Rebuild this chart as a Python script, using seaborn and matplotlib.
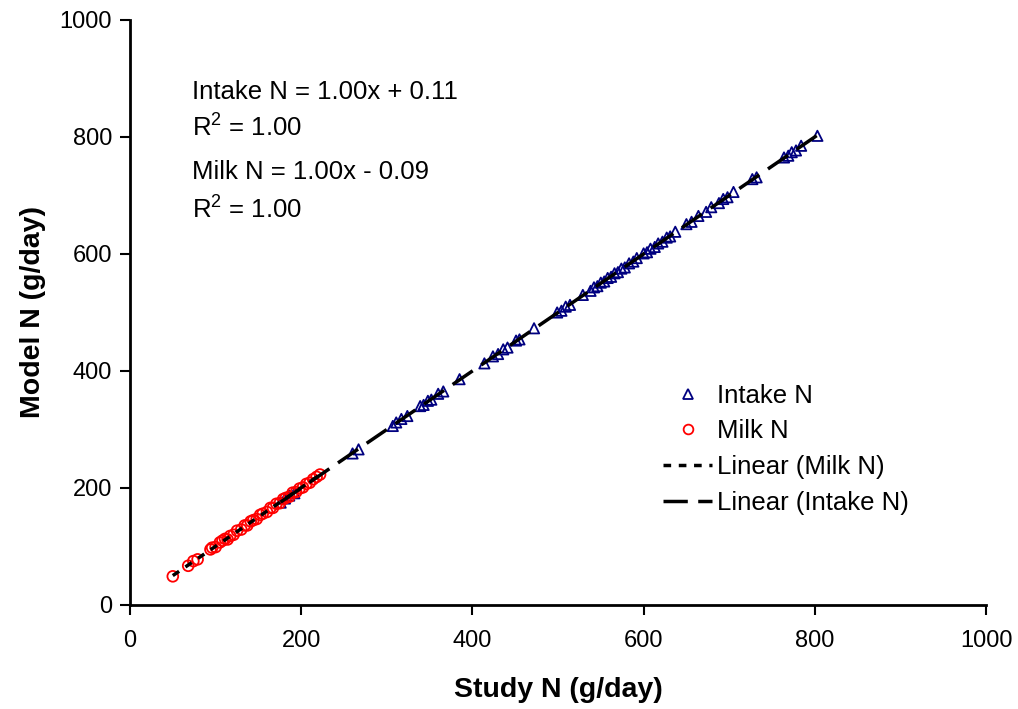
import numpy as np
import pandas as pd
import matplotlib
matplotlib.use("Agg")
import matplotlib.pyplot as plt
import seaborn as sns
from matplotlib.lines import Line2D

# ---- data ----
milk_study = [50, 68, 74, 79, 94, 96, 100, 105, 108, 111, 114, 117, 121, 125, 130, 134, 137, 141,
              144, 148, 152, 155, 160, 164, 167, 171, 175, 179, 182, 186, 190, 194, 198, 202,
              206, 210, 214, 218, 222]
milk_model = [49, 67, 75, 78, 95, 98, 99, 107, 110, 113, 112, 118, 120, 127, 129, 136, 136, 143,
              145, 147, 154, 156, 159, 166, 166, 173, 174, 181, 183, 185, 192, 193, 199, 201,
              207, 209, 215, 219, 223]
intake_study = [176, 181, 186, 192, 260, 267, 307, 311, 317, 324, 339, 343, 348, 352, 360, 366,
                385, 414, 424, 430, 436, 441, 451, 455, 472, 499, 504, 509, 514, 529, 538, 542,
                546, 550, 554, 558, 562, 566, 570, 574, 578, 583, 588, 592, 600, 604, 608, 613,
                617, 622, 627, 631, 637, 650, 656, 664, 673, 679, 688, 693, 698, 705, 727, 732,
                764, 769, 773, 778, 784, 803]
intake_model = [175, 182, 187, 191, 259, 266, 306, 312, 318, 323, 340, 342, 349, 351, 361, 365,
                386, 413, 425, 429, 437, 440, 452, 454, 473, 500, 503, 510, 513, 530, 537, 543,
                545, 551, 553, 559, 561, 567, 569, 575, 577, 584, 587, 593, 601, 603, 609, 612,
                618, 621, 628, 630, 638, 651, 655, 665, 672, 680, 687, 694, 697, 706, 728, 731,
                765, 768, 774, 777, 785, 802]

milk = pd.DataFrame({"study": milk_study, "model": milk_model})
intake = pd.DataFrame({"study": intake_study, "model": intake_model})

plt.rcParams["font.family"] = ["Liberation Sans", "DejaVu Sans"]
plt.rcParams["mathtext.fontset"] = "custom"
plt.rcParams["mathtext.rm"] = "Liberation Sans"
plt.rcParams["mathtext.it"] = "Liberation Sans:italic"

fig = plt.figure(figsize=(10.18, 7.09), dpi=100)
ax = fig.add_axes([0.1277, 0.1467, 0.8409, 0.8251])

navy = "#000080"
red = "#ff0000"

sns.scatterplot(data=intake, x="study", y="model", ax=ax, marker="^", s=55,
                facecolors="none", edgecolor=navy, linewidth=1.3, zorder=3)
sns.scatterplot(data=milk, x="study", y="model", ax=ax, marker="o", s=60,
                facecolors="none", edgecolor=red, linewidth=1.3, zorder=4)

milk_ls = (0, (2.2, 2.2))
intake_ls = (0, (7, 3))
sns.regplot(data=milk, x="study", y="model", ax=ax, scatter=False, ci=None, truncate=True,
            line_kws=dict(color="black", lw=2.5, linestyle=milk_ls, zorder=5))
sns.regplot(data=intake, x="study", y="model", ax=ax, scatter=False, ci=None, truncate=True,
            line_kws=dict(color="black", lw=2.5, linestyle=intake_ls, zorder=5))

ax.set_xlim(0, 1000)
ax.set_ylim(0, 1000)
ax.set_xticks(np.arange(0, 1001, 200))
ax.set_yticks(np.arange(0, 1001, 200))
ax.tick_params(axis="both", labelsize=17, direction="out", length=7, width=1.5, colors="black")
ax.tick_params(axis="x", pad=11)
ax.tick_params(axis="y", pad=6)
for s in ["top", "right"]:
    ax.spines[s].set_visible(False)
for s in ["left", "bottom"]:
    ax.spines[s].set_linewidth(2)
ax.set_xlabel("Study N (g/day)", fontsize=20.5, fontweight="bold", labelpad=18)
ax.set_ylabel("Model N (g/day)", fontsize=20.5, fontweight="bold", labelpad=10)
ax.grid(False)
ax.set_facecolor("white")

fs = 18.5
ax.text(73, 877, "Intake N = 1.00x + 0.11", fontsize=fs, va="center")
ax.text(73, 815, r"R$^{2}$ = 1.00", fontsize=fs, va="center")
ax.text(73, 740, "Milk N = 1.00x - 0.09", fontsize=fs, va="center")
ax.text(73, 675, r"R$^{2}$ = 1.00", fontsize=fs, va="center")

handles = [
    Line2D([], [], linestyle="none", marker="^", markerfacecolor="none", markeredgecolor=navy,
           markersize=7, markeredgewidth=1.3),
    Line2D([], [], linestyle="none", marker="o", markerfacecolor="none", markeredgecolor=red,
           markersize=7, markeredgewidth=1.3),
    Line2D([], [], color="black", lw=2.5, linestyle=milk_ls),
    Line2D([], [], color="black", lw=2.5, linestyle=intake_ls),
]
labels = ["Intake N", "Milk N", "Linear (Milk N)", "Linear (Intake N)"]
ax.legend(handles, labels, loc="upper left", bbox_to_anchor=(0.623, 0.378), frameon=False,
          fontsize=fs, handlelength=1.9, handletextpad=0.2, labelspacing=0.45,
          borderaxespad=0, borderpad=0)

fig.savefig("out.png", dpi=100, facecolor="white")
